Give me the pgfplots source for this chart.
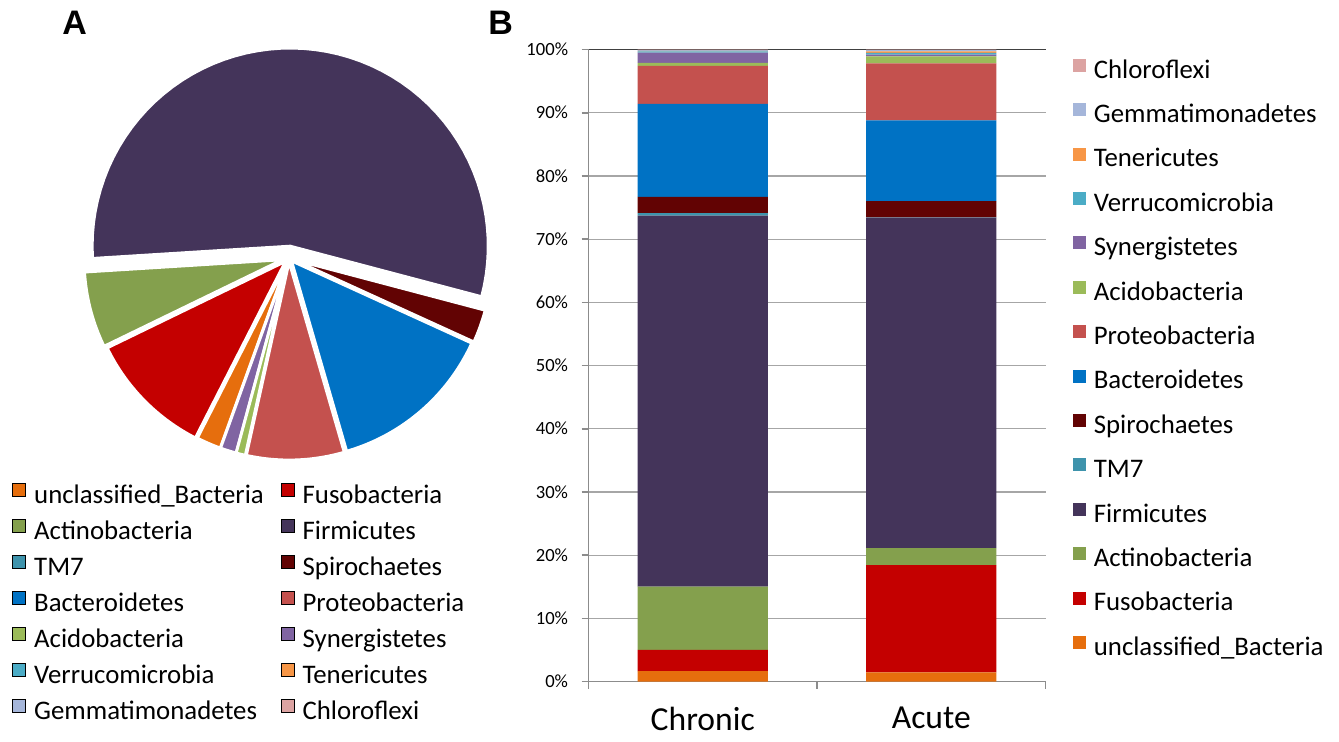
\documentclass[border=0pt]{standalone}
\usepackage{pgfplots}
\pgfplotsset{compat=1.18}
\usepackage{fontspec}
\setmainfont{Carlito}
\newfontfamily\labfont{Liberation Sans}
\definecolor{cUnc}{HTML}{E66E0D}
\definecolor{cFus}{HTML}{C40000}
\definecolor{cAct}{HTML}{84A04D}
\definecolor{cTM}{HTML}{3E93AC}
\definecolor{cFir}{HTML}{44345A}
\definecolor{cSpi}{HTML}{620303}
\definecolor{cBac}{HTML}{0072C4}
\definecolor{cPro}{HTML}{C4514E}
\definecolor{cAci}{HTML}{9BBB59}
\definecolor{cSyn}{HTML}{8064A2}
\definecolor{cVer}{HTML}{4BACC6}
\definecolor{cTen}{HTML}{F79646}
\definecolor{cGem}{HTML}{A5B6DA}
\definecolor{cChl}{HTML}{DCA3A2}
% pie slice: colour, start angle, end angle, centre x, centre y (pixel units)
\newcommand\pieslice[5]{\addplot[fill=#1, draw=white, line width=1.4pt, line join=round, domain=#2:#3, samples=60, forget plot] ({#4+198*cos(x)},{#5+198*sin(x)}) -- (axis cs:#4,#5) -- cycle;}
\begin{document}
\begin{tikzpicture}
\useasboundingbox (0,0) rectangle (669.5pt,370.5pt);
% ---------- Panel A: pie ----------
\begin{axis}[at={(0,0)}, anchor=south west, x=0.5pt, y=0.5pt,
  xmin=0, xmax=1339, ymin=0, ymax=741, hide axis, clip=false,
  legend columns=2, legend cell align=left,
  legend image code/.code={\fill[#1] (0pt,-0.2pt) rectangle (6.5pt,6.3pt);},
  legend style={at={(axis cs:12,263)}, anchor=north west, draw=none, fill=none,
    inner sep=0pt, row sep=0pt, font=\fontsize{13.4}{16}\selectfont,
    nodes={inner xsep=4pt, inner ysep=2.85pt, text height=9.5pt, text depth=2.8pt},
    /tikz/every even column/.append style={column sep=4.5pt}}]
% percentages (CCW from -14.8 deg): Firmicutes 55.1, Actinobacteria 6.2, Fusobacteria 10.3,
% unclassified 2.0, Synergistetes 1.3, Acidobacteria 0.75, Proteobacteria 7.95, Bacteroidetes 13.7, Spirochaetes 2.7
\pieslice{cFir}{-14.8}{183.56}{290.2}{494.9}
\pieslice{cAct}{183.56}{205.88}{282.2}{481.2}
\pieslice{cFus}{205.88}{242.96}{285.4}{479.5}
\pieslice{cUnc}{242.96}{250.16}{287.4}{479.3}
\pieslice{cSyn}{250.16}{254.84}{287.8}{479.2}
\pieslice{cAci}{254.84}{257.54}{288.0}{479.1}
\pieslice{cPro}{257.54}{286.16}{289.1}{479.0}
\pieslice{cBac}{286.16}{335.48}{291.6}{480.0}
\pieslice{cSpi}{335.48}{345.2}{293.7}{481.3}
\addlegendimage{fill=cUnc}\addlegendentry{unclassified\_Bacteria}
\addlegendimage{fill=cFus}\addlegendentry{Fusobacteria}
\addlegendimage{fill=cAct}\addlegendentry{Actinobacteria}
\addlegendimage{fill=cFir}\addlegendentry{Firmicutes}
\addlegendimage{fill=cTM}\addlegendentry{TM7}
\addlegendimage{fill=cSpi}\addlegendentry{Spirochaetes}
\addlegendimage{fill=cBac}\addlegendentry{Bacteroidetes}
\addlegendimage{fill=cPro}\addlegendentry{Proteobacteria}
\addlegendimage{fill=cAci}\addlegendentry{Acidobacteria}
\addlegendimage{fill=cSyn}\addlegendentry{Synergistetes}
\addlegendimage{fill=cVer}\addlegendentry{Verrucomicrobia}
\addlegendimage{fill=cTen}\addlegendentry{Tenericutes}
\addlegendimage{fill=cGem}\addlegendentry{Gemmatimonadetes}
\addlegendimage{fill=cChl}\addlegendentry{Chloroflexi}
\end{axis}
% ---------- Panel B: stacked bars ----------
\begin{axis}[at={(294.25pt,29.75pt)}, anchor=south west, scale only axis,
  width=228.5pt, height=316pt,
  ybar stacked, bar width=0.57,
  xmin=0, xmax=2, ymin=0, ymax=100,
  xtick={0,1,2}, xticklabels={},
  extra x ticks={0.5,1.5}, extra x tick labels={Chronic,Acute},
  extra x tick style={major tick length=0pt, grid=none,
    xticklabel style={font=\fontsize{16.8}{19}\selectfont, yshift=-11.5pt, inner ysep=1pt, text depth=0pt}},
  ytick={0,10,...,90}, yticklabel={\pgfmathprintnumber{\tick}\%},
  extra y ticks={100}, extra y tick labels={100\%},
  extra y tick style={grid style={black!75, line width=0.8pt}},
  yticklabel style={font=\fontsize{9.3}{11}\selectfont, xshift=-3.2pt},
  /pgf/number format/assume math mode=true,
  ymajorgrids, grid style={black!35, line width=0.6pt},
  axis x line*=bottom, axis y line*=left,
  axis line style={black!45, line width=0.8pt},
  tick align=outside, major tick length=3.5pt, tick style={black!45, line width=0.8pt},
  reverse legend, legend cell align=left,
  legend image code/.code={\fill[#1] (0pt,-0.2pt) rectangle (6.5pt,6.3pt);},
  legend style={at={(rel axis cs:1.059,1.001)}, anchor=north west, draw=none, fill=none,
    inner sep=0pt, row sep=0pt, font=\fontsize{13.4}{16}\selectfont,
    nodes={inner xsep=4pt, inner ysep=4.95pt, text height=9.5pt, text depth=2.8pt}}]
\addplot[fill=cUnc, draw=none] coordinates {(0.5,1.66) (1.5,1.45)};
\addlegendentry{unclassified\_Bacteria}
\addplot[fill=cFus, draw=none] coordinates {(0.5,3.34) (1.5,16.95)};
\addlegendentry{Fusobacteria}
\addplot[fill=cAct, draw=none] coordinates {(0.5,10.0) (1.5,2.7)};
\addlegendentry{Actinobacteria}
\addplot[fill=cFir, draw=none] coordinates {(0.5,58.7) (1.5,52.3)};
\addlegendentry{Firmicutes}
\addplot[fill=cTM, draw=none] coordinates {(0.5,0.4) (1.5,0.05)};
\addlegendentry{TM7}
\addplot[fill=cSpi, draw=none] coordinates {(0.5,2.6) (1.5,2.55)};
\addlegendentry{Spirochaetes}
\addplot[fill=cBac, draw=none] coordinates {(0.5,14.7) (1.5,12.8)};
\addlegendentry{Bacteroidetes}
\addplot[fill=cPro, draw=none] coordinates {(0.5,6.0) (1.5,9.0)};
\addlegendentry{Proteobacteria}
\addplot[fill=cAci, draw=none] coordinates {(0.5,0.5) (1.5,1.1)};
\addlegendentry{Acidobacteria}
\addplot[fill=cSyn, draw=none] coordinates {(0.5,1.6) (1.5,0.3)};
\addlegendentry{Synergistetes}
\addplot[fill=cVer, draw=none] coordinates {(0.5,0.2) (1.5,0.25)};
\addlegendentry{Verrucomicrobia}
\addplot[fill=cTen, draw=none] coordinates {(0.5,0.1) (1.5,0.25)};
\addlegendentry{Tenericutes}
\addplot[fill=cGem, draw=none] coordinates {(0.5,0.1) (1.5,0.2)};
\addlegendentry{Gemmatimonadetes}
\addplot[fill=cChl, draw=none] coordinates {(0.5,0.1) (1.5,0.1)};
\addlegendentry{Chloroflexi}
\end{axis}
\node[anchor=base west, inner sep=0pt, font=\labfont\bfseries\fontsize{17}{20}\selectfont] at (31pt,353pt) {A};
\node[anchor=base west, inner sep=0pt, font=\labfont\bfseries\fontsize{17}{20}\selectfont] at (244pt,353pt) {B};
\end{tikzpicture}
\end{document}
